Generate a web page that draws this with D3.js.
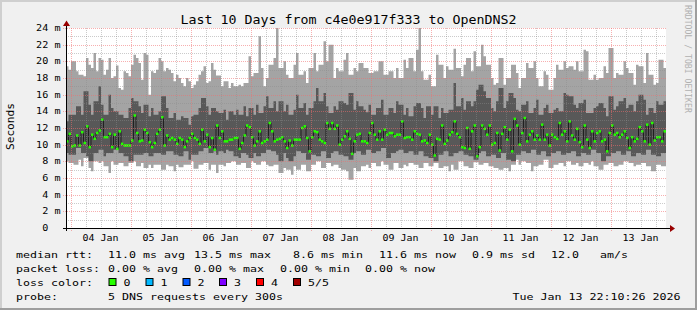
<!DOCTYPE html>
<html><head><meta charset="utf-8">
<script src="https://cdn.jsdelivr.net/npm/d3@7"></script>
<style>
body{margin:0;background:#f0f0f0}
svg{display:block}
text{font-family:"DejaVu Sans Mono",monospace;fill:#000}
</style>
</head><body>
<svg id="c" width="697" height="310"></svg>
<script>
// ---- data (ms), one value per 1-hour column, oldest first ----
const maxV=[19.4,19.0,20.0,20.0,18.8,18.4,18.4,18.2,20.4,19.6,19.2,21.0,18.8,20.4,20.2,18.4,19.0,20.4,18.0,18.2,19.5,16.8,16.6,18.8,18.6,18.2,19.6,20.8,20.4,19.8,17.8,21.0,20.8,16.0,18.8,18.6,19.0,20.4,20.0,18.8,19.2,19.0,18.6,17.6,18.4,18.0,17.4,17.0,18.0,17.6,16.8,17.2,17.6,18.4,18.8,19.4,17.4,17.6,19.8,19.0,
18.3,18.3,17.0,17.6,17.6,16.8,17.4,17.0,17.0,17.2,17.0,17.4,17.4,20.6,18.2,18.6,18.6,23.0,19.2,17.0,18.0,19.6,19.6,20.4,24.0,19.2,19.2,20.0,18.4,18.0,18.0,19.6,21.0,18.4,18.4,18.8,17.4,19.2,19.2,21.0,18.8,19.6,19.6,22.4,20.0,22.0,22.0,18.0,19.2,18.8,18.8,20.2,21.0,18.4,18.4,19.2,18.8,19.8,19.8,19.2,
19.2,18.6,18.6,18.8,18.8,20.0,20.0,18.4,18.4,18.8,18.8,18.0,19.2,18.0,18.0,20.2,19.2,20.4,20.4,18.8,21.4,24.0,18.8,17.8,17.8,18.4,17.0,17.0,20.8,19.6,19.6,18.0,19.4,19.0,19.0,21.5,19.2,19.2,18.2,19.6,20.4,20.4,18.8,21.2,19.4,19.4,22.0,20.6,19.6,19.6,18.0,17.2,17.4,20.4,20.4,17.2,18.0,18.0,19.6,19.6,
18.6,16.8,18.0,18.0,19.8,19.2,19.2,20.0,18.0,17.0,17.0,18.8,18.4,16.6,16.6,18.0,19.6,19.0,19.0,20.0,19.2,19.4,19.4,19.0,20.0,18.8,18.8,21.4,21.2,17.8,17.8,18.4,17.8,18.0,18.0,19.4,18.6,21.6,21.6,18.0,18.6,18.4,18.4,20.0,19.2,18.6,18.6,17.2,19.6,19.4,19.4,17.4,21.0,18.4,18.4,17.2,17.4,20.2,20.2,19.2];
const q3V=[12.8,13.6,13.6,13.6,14.6,14.6,13.6,16.4,16.4,14.8,13.6,15.2,15.2,17.0,14.8,13.6,13.6,16.0,14.4,14.0,14.0,13.6,13.6,13.2,13.2,14.4,15.6,15.2,15.2,14.6,13.8,14.8,14.8,13.4,14.4,13.6,13.6,14.0,15.8,15.8,14.4,13.2,13.2,13.8,13.0,13.0,13.4,13.2,13.2,12.4,13.4,13.6,13.6,14.4,15.6,15.6,14.6,13.6,14.4,14.4,
14.0,13.8,13.8,14.2,13.0,14.0,14.0,13.6,14.2,13.6,13.6,14.6,13.4,14.4,14.4,13.6,14.8,13.8,13.8,14.6,15.8,14.4,14.4,15.2,14.0,15.2,15.2,14.0,14.8,13.6,13.6,14.2,16.0,14.4,14.4,15.0,13.6,14.4,14.4,15.2,16.8,15.2,15.2,16.2,14.6,13.8,13.8,14.6,14.2,15.2,15.2,15.0,14.8,16.2,16.2,14.2,15.2,14.6,14.6,14.2,
13.9,14.8,13.6,13.6,14.4,14.4,15.4,13.6,13.6,14.4,14.4,13.8,15.2,14.8,14.8,13.6,14.4,13.4,13.4,14.6,15.0,15.0,14.4,13.2,14.6,14.6,13.6,14.6,14.6,13.2,14.4,13.8,13.8,14.2,14.2,17.4,14.6,14.6,15.6,14.2,15.2,15.2,14.6,15.2,16.6,17.2,17.2,16.4,15.6,15.6,14.4,14.0,15.2,16.8,16.8,14.4,15.2,16.2,16.2,15.6,
14.2,14.0,14.8,14.8,15.2,13.8,13.8,14.4,15.4,13.6,13.6,14.4,14.8,13.8,13.8,14.2,14.4,14.0,14.0,16.2,16.0,15.8,15.8,14.8,14.4,15.0,15.0,15.4,13.8,13.8,13.8,14.4,14.6,15.0,15.0,14.4,13.4,15.8,15.8,14.2,14.6,15.2,15.2,15.6,14.4,14.8,14.8,14.0,15.2,16.0,16.0,15.4,13.6,14.4,14.4,13.8,15.2,14.8,14.8,15.2];
const medV=[10.4,11.3,9.8,9.9,11.1,9.9,11.5,10.2,12.2,9.7,11.2,10.7,11.4,11.7,13.0,10.9,10.9,11.3,9.7,11.2,9.5,11.6,10.1,9.9,9.9,9.9,10.5,13.5,11.4,10.4,10.5,11.8,11.4,10.3,9.7,10.2,11.3,11.8,13.3,9.9,11.1,10.6,10.8,10.6,10.1,10.8,10.6,9.7,10.4,10.8,11.3,10.8,10.6,10.1,11.8,10.4,11.2,9.7,10.8,9.4,
12.3,10.8,11.6,10.4,10.4,10.6,10.6,10.8,10.8,9.5,10.2,11.1,12.3,12.1,10.9,9.9,10.4,11.6,10.2,10.4,10.6,12.6,11.6,10.4,10.6,10.7,10.9,10.4,9.6,10.5,9.9,10.6,10.6,10.6,12.0,12.2,10.8,9.2,10.9,11.6,11.5,10.6,10.4,10.2,12.6,11.9,12.6,11.9,12.3,10.0,10.6,11.0,11.6,10.7,8.9,10.4,11.2,11.3,10.4,10.4,
10.2,11.4,12.6,11.2,10.6,11.6,10.6,11.8,11.2,11.4,11.4,11.0,11.2,11.2,12.8,10.8,10.9,10.9,10.6,11.6,11.3,11.2,10.4,10.5,10.2,11.2,10.0,8.7,10.7,10.6,12.3,10.1,10.5,11.2,11.5,12.8,11.3,10.9,9.7,9.6,12.0,9.5,11.6,12.3,8.6,9.7,12.3,11.9,11.2,12.3,10.0,10.2,11.4,9.3,11.3,12.1,10.6,11.8,9.2,13.1,
12.3,10.0,11.4,13.2,10.4,11.2,11.6,10.6,11.1,10.6,12.4,10.6,11.2,9.9,11.2,10.9,10.7,12.6,11.2,11.6,10.4,12.8,11.1,10.6,11.9,10.3,9.7,12.3,10.6,9.6,11.6,10.4,11.4,11.6,10.4,10.6,9.2,11.4,12.3,11.2,11.4,10.9,11.2,11.6,10.8,9.6,10.9,10.4,10.7,12.1,11.6,10.4,12.4,10.0,12.6,10.5,10.9,10.9,10.4,11.6];
const q1V=[9.0,8.8,8.8,8.8,9.6,9.6,9.0,9.0,8.6,8.0,8.0,9.0,9.0,9.4,9.4,8.6,9.0,9.0,9.0,9.4,9.4,9.0,9.0,8.6,8.6,8.0,8.0,8.8,8.8,8.8,8.8,9.0,9.0,8.6,8.6,9.0,9.0,9.0,8.8,8.8,9.2,9.2,9.2,8.8,8.8,8.6,8.6,9.2,9.2,8.2,8.8,8.8,8.8,9.2,9.2,9.6,9.6,9.0,9.0,9.2,
8.8,9.2,9.2,9.0,9.4,9.2,9.2,8.6,8.6,8.4,9.0,9.0,8.8,8.4,8.4,9.0,8.6,8.6,9.0,9.0,9.4,9.4,9.2,9.2,8.8,8.0,8.0,9.0,8.4,8.0,8.0,8.6,9.2,9.2,9.0,9.0,8.2,8.2,8.8,8.8,8.6,8.6,9.2,9.2,8.4,8.4,9.0,9.2,9.2,8.8,8.8,8.6,8.6,8.2,8.2,9.0,9.2,9.2,8.8,8.8,
9.4,9.4,9.0,9.0,9.2,9.2,9.6,9.6,8.4,8.4,9.0,9.0,9.2,9.4,9.4,9.0,9.0,9.2,9.2,8.8,8.8,9.2,9.2,8.6,8.6,8.4,8.4,8.0,8.0,8.8,8.8,9.2,9.2,8.6,8.6,9.0,9.0,9.2,9.2,8.8,8.8,8.6,8.6,8.2,8.2,9.0,9.2,9.2,8.6,8.6,8.8,8.8,8.4,8.4,9.0,9.0,8.2,8.2,8.0,8.0,
8.8,8.8,9.2,9.2,9.0,9.0,9.4,9.4,8.8,8.8,9.2,9.2,8.6,8.6,9.0,9.0,9.2,9.2,8.8,8.8,9.0,9.0,9.2,9.2,8.6,8.6,9.0,9.0,8.8,8.8,9.4,9.4,9.0,9.0,8.0,8.0,8.6,8.6,9.0,9.0,9.2,9.2,8.8,8.8,9.2,9.2,8.6,8.6,9.0,9.0,8.8,8.8,9.4,9.4,8.8,8.8,8.6,8.6,9.0,9.0];
const minV=[8.0,7.8,7.8,7.6,7.6,8.2,7.4,8.4,8.4,7.2,6.8,8.0,8.0,7.8,8.0,7.4,7.4,6.6,8.0,7.6,7.6,7.8,7.8,7.4,7.4,7.8,7.8,8.0,7.4,7.4,7.8,7.2,7.2,7.6,7.2,7.6,7.6,7.6,7.0,7.0,7.6,7.4,7.4,6.8,7.6,7.3,7.3,7.6,7.6,7.6,8.0,7.1,7.1,7.6,7.6,7.8,7.8,7.0,7.6,7.6,
6.6,7.6,7.6,7.4,7.8,7.8,8.0,8.0,7.6,7.6,7.8,7.8,7.2,7.2,8.0,7.8,7.6,7.6,8.0,8.0,7.6,7.4,7.4,7.6,7.6,6.6,6.6,7.2,7.0,7.0,6.4,7.4,7.0,7.0,7.6,7.6,6.8,6.8,7.6,7.6,8.0,8.0,7.2,7.2,7.8,7.8,7.4,7.6,7.6,7.2,7.0,7.0,6.8,5.8,5.8,7.2,6.8,6.8,7.4,7.4,
7.6,7.2,7.8,7.8,7.4,7.4,8.0,7.6,7.6,7.0,7.0,7.8,7.8,7.2,7.2,7.6,7.4,7.8,7.8,7.6,7.6,7.2,7.2,7.8,7.8,7.4,7.4,7.8,7.8,7.2,7.2,7.4,7.4,6.8,7.6,7.0,7.0,8.0,8.0,7.4,7.4,7.2,7.2,7.9,7.9,7.6,7.6,7.8,7.8,7.4,7.4,7.2,7.2,7.0,7.0,7.2,7.2,6.8,7.6,7.6,
8.2,7.6,8.0,8.0,7.8,7.8,6.8,7.4,7.4,7.6,7.6,8.2,8.2,7.2,7.2,7.6,7.6,7.8,7.8,7.4,8.0,8.0,7.6,7.6,7.8,7.4,7.4,7.8,7.8,7.6,8.0,7.4,7.4,7.0,7.0,7.6,7.6,7.8,7.8,7.4,7.4,7.6,7.6,8.0,8.0,7.8,7.8,7.4,7.6,7.6,7.8,7.8,7.4,7.4,6.8,6.8,7.6,7.6,7.4,7.4];

const yTicks=[0,2,4,6,8,10,12,14,16,18,20,22,24];
const xLabels=["04 Jan","05 Jan","06 Jan","07 Jan","08 Jan","09 Jan","10 Jan","11 Jan","12 Jan","13 Jan"];
const titleText="Last 10 Days from c4e0e917f333 to OpenDNS2";
const lossLabels=["0","1","2","3","4","5/5"];
const lossColors=["#26ff00","#00b8ff","#0059ff","#7e00ff","#ff0000","#a10000"];
const rttStats=["11.0 ms avg","13.5 ms max","8.6 ms min","11.6 ms now","0.9 ms sd","12.0","am/s"];
const lossStats=["0.00 % avg","0.00 % max","0.00 % min","0.00 % now"];
const probeText="5 DNS requests every 300s";
const dateText="Tue Jan 13 22:10:26 2026";

// ---- layout ----
const svg=d3.select("#c");
const W=697,H=310, X0=66, X1=666, YT=28, YB=228;
const endT=Date.UTC(2026,0,13,22,10,26), startT=endT-10*86400e3;
const x=d3.scaleUtc().domain([new Date(startT),new Date(endT)]).range([X0,X1]);
const y=d3.scaleLinear().domain([0,24]).range([YB,YT]);
const N=medV.length;
const tx=i=>x(new Date(startT+i*3600e3));
const at=(a,i)=>a[Math.min(i,a.length-1)];
const idx=d3.range(N+1);

function txt(g,s,px,py,size,adv,attrs){
  const t=g.append("text").attr("x",px).attr("y",py).attr("font-size",size).text(s);
  if(adv) t.attr("textLength",s.length*adv).attr("lengthAdjust","spacingAndGlyphs");
  if(attrs) for(const k in attrs) t.attr(k,attrs[k]);
  return t;
}

// background & frame
svg.append("rect").attr("width",W).attr("height",H).attr("fill","#f0f0f0");
svg.append("path").attr("d",`M0,0H${W}V2H2V${H}H0Z`).attr("fill","#cfcfcf");
svg.append("path").attr("d",`M${W},0V${H}H0V${H-2}H${W-2}V0Z`).attr("fill","#9e9e9e");
svg.append("rect").attr("x",X0).attr("y",YT).attr("width",X1-X0).attr("height",YB-YT).attr("fill","#fff");

// smoke bands
const plot=svg.append("g");
plot.append("path").attr("fill","#a4a4a4")
  .attr("d",d3.area().curve(d3.curveStepAfter).x(i=>tx(i)).y0(i=>y(at(minV,i))).y1(i=>y(at(maxV,i)))(idx));
plot.append("path").attr("fill","#585858")
  .attr("d",d3.area().curve(d3.curveStepAfter).x(i=>tx(i)).y0(i=>y(at(q1V,i))).y1(i=>y(at(q3V,i)))(idx));
// median step line
plot.append("path").attr("fill","none").attr("stroke","#202020").attr("stroke-width",1)
  .attr("d",d3.line().curve(d3.curveStepAfter).x(i=>tx(i)).y(i=>y(at(medV,i)))(idx));
// median marks coloured by loss (all 0 loss)
plot.selectAll("rect.m").data(medV).join("rect").attr("class","m")
  .attr("x",(d,i)=>tx(i)).attr("width",(d,i)=>tx(i+1)-tx(i))
  .attr("y",d=>y(d)-1.25).attr("height",2.5).attr("fill",lossColors[0]);

// grid (drawn over data)
const grid=svg.append("g").attr("stroke-width",1).attr("stroke-dasharray","1,1");
const minorC="rgba(140,140,140,0.45)", majorC="rgba(240,110,110,0.55)";
d3.range(1,24).forEach(v=>{
  const yy=Math.round(y(v))+0.5;
  grid.append("line").attr("x1",v%2?X0:63).attr("x2",X1).attr("y1",yy).attr("y2",yy)
    .attr("stroke",v%2?minorC:majorC);
});
{const yy=Math.round(y(24))+0.5;
 grid.append("line").attr("x1",63).attr("x2",X1).attr("y1",yy).attr("y2",yy).attr("stroke",majorC);}
d3.utcHour.every(6).range(new Date(startT),new Date(endT)).forEach(t=>{
  const major=t.getUTCHours()===0;
  const xx=Math.round(x(t))+0.5;
  grid.append("line").attr("x1",xx).attr("x2",xx).attr("y1",YT).attr("y2",major?231:YB)
    .attr("stroke",major?majorC:minorC);
});

// axes
const ax=svg.append("g");
ax.append("line").attr("x1",63).attr("x2",670).attr("y1",YB+0.5).attr("y2",YB+0.5).attr("stroke","#000");
ax.append("path").attr("d",`M670,${YB-3}L675,${YB+0.5}L670,${YB+4}Z`).attr("fill","#990000");
ax.append("line").attr("x1",X0+0.5).attr("x2",X0+0.5).attr("y1",231).attr("y2",25).attr("stroke","#000");
ax.append("path").attr("d",`M${X0-3},26L${X0+0.5},20.5L${X0+4},26Z`).attr("fill","#990000");

// y tick labels
const TADV=6.1, TFS=8.6;
yTicks.forEach(v=>{
  const yy=y(v)+3;
  if(v===0) txt(ax,"0",60.5-3*TADV,yy,TFS,TADV);
  else { const s=v+" m"; txt(ax,s,60.5-s.length*TADV,yy,TFS,TADV); }
});
// x tick labels at noon
d3.utcDay.range(new Date(startT),new Date(endT)).forEach((d,i)=>{
  const noon=new Date(+d+12*3600e3);
  if(i<xLabels.length){
    const s=xLabels[i], c=x(noon);
    txt(ax,s,c-s.length*6.0/2,240.5,TFS,6.0);
  }
});

// title
txt(svg,titleText,348.5-titleText.length*8.0/2,23.5,11.5,8.0);
// y axis title
svg.append("g").attr("transform","translate(13.5,150) rotate(-90)")
  .call(g=>txt(g,"Seconds",0,0,11,6.7));
// watermark
svg.append("g").attr("transform","translate(684.5,5) rotate(90)")
  .call(g=>txt(g,"RRDTOOL / TOBI OETIKER",0,0,8,4.9,{fill:"#b0b0b0"}).style("fill","#b0b0b0"));

// legend
const LA=7.0, LF=8.8, L=[257.5,271.5,285.5,299.5];
const lg=svg.append("g");
txt(lg,"median rtt:",16,L[0],LF,LA);
[108,194,293,379,472,551,600].forEach((px,i)=>txt(lg,rttStats[i],px,L[0],LF,LA));
txt(lg,"packet loss:",16,L[1],LF,LA);
[108,194,280,365].forEach((px,i)=>txt(lg,lossStats[i],px,L[1],LF,LA));
txt(lg,"loss color:",16,L[2],LF,LA);
[108.5,145.5,182.5,219,256,293].forEach((px,i)=>{
  lg.append("rect").attr("x",px+0.5).attr("y",278.5).attr("width",7).attr("height",7)
    .attr("fill",lossColors[i]).attr("stroke","#000").attr("stroke-width",1);
  txt(lg,lossLabels[i],px+15,L[2],LF,LA);
});
txt(lg,"probe:",16,L[3],LF,LA);
txt(lg,probeText,108,L[3],LF,LA);
txt(lg,dateText,680.5-dateText.length*LA,L[3],LF,LA);
</script>
</body></html>
